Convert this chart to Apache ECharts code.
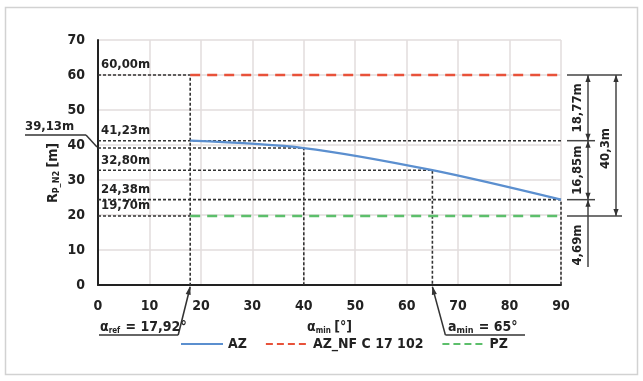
<!DOCTYPE html>
<html>
<head>
<meta charset="utf-8">
<script src="https://cdn.jsdelivr.net/npm/echarts@6/dist/echarts.min.js"></script>
<style>
  html, body { margin: 0; padding: 0; background: #fff; }
  #chart { width: 643px; height: 381px; }
</style>
</head>
<body>
<div id="chart"></div>
<script>
// Angles (°) and radii (m)
const angles = [17.92, 40, 65, 90];
const azRadius = [41.23, 39.13, 32.80, 24.38];
const nfLevel = 60.00;
const pzLevel = 19.70;
const refAngle = 17.92;
const minAngle = 65;
const dimTexts = ['18,77m', '16,85m', '40,3m', '4,69m'];

const FONT = '"DejaVu Sans Condensed", "DejaVu Sans", sans-serif';
const INK = '#222';
const BLUE = '#5b8fcf';
const RED = '#e8523a';
const GREEN = '#5cbf6b';

const fmt = v => v.toFixed(2).replace('.', ',') + 'm';

// Dotted guide polylines: from the y axis to the point, then down to the x axis
const guides = [
  [[0, nfLevel], [refAngle, nfLevel], [refAngle, 0]],
  [[0, azRadius[0]], [angles[3], azRadius[0]]],
  [[0, azRadius[1]], [angles[1], azRadius[1]], [angles[1], 0]],
  [[0, azRadius[2]], [angles[2], azRadius[2]], [angles[2], 0]],
  [[0, azRadius[3]], [angles[3], azRadius[3]], [angles[3], 0]],
  [[0, pzLevel], [refAngle, pzLevel]]
];

const chart = echarts.init(document.getElementById('chart'), null, { renderer: 'canvas' });

const guideSeries = guides.map(g => ({
  type: 'line', data: g, symbol: 'none', silent: true, z: 1,
  lineStyle: { color: '#333', width: 1.6, type: [3, 2] }
}));

const option = {
  animation: false,
  backgroundColor: '#fff',
  grid: { left: 98, right: 82, top: 40, bottom: 96, show: false },
  xAxis: {
    type: 'value', min: 0, max: 90, interval: 10,
    name: '{a|α}{s|min} {a|[°]}', nameLocation: 'middle', nameGap: 34,
    nameTextStyle: {
      rich: {
        a: { fontFamily: FONT, fontWeight: 'bold', fontSize: 14, color: INK },
        s: { fontFamily: FONT, fontWeight: 'bold', fontSize: 8, color: INK, verticalAlign: 'bottom', padding: [8, 0, 0, 0] }
      }
    },
    axisLine: { onZero: false, lineStyle: { color: '#222', width: 2 } },
    axisTick: { show: false },
    axisLabel: { margin: 14, fontFamily: FONT, fontWeight: 'bold', fontSize: 14, color: INK },
    splitLine: { show: true, lineStyle: { color: '#e2dcdc', width: 1.5 } }
  },
  yAxis: {
    type: 'value', min: 0, max: 70, interval: 10,
    axisLine: { show: true, lineStyle: { color: '#222', width: 2 } },
    axisTick: { show: false },
    axisLabel: { margin: 13, fontFamily: FONT, fontWeight: 'bold', fontSize: 14, color: INK },
    splitLine: { show: true, lineStyle: { color: '#e2dcdc', width: 1.5 } }
  },
  legend: {
    left: 175, top: 332, itemWidth: 42, itemHeight: 12, itemGap: 18,
    itemStyle: { opacity: 0 },
    textStyle: { fontFamily: FONT, fontWeight: 'bold', fontSize: 14, color: INK },
    data: [
      { name: 'AZ' },
      { name: 'AZ_NF C 17 102', lineStyle: { type: [7, 4] } },
      { name: 'PZ', lineStyle: { type: [7, 4] } }
    ]
  },
  series: [
    ...guideSeries,
    {
      name: 'AZ', type: 'line', symbol: 'none', smooth: 0.3, z: 3,
      data: angles.map((a, i) => [a, azRadius[i]]),
      lineStyle: { color: BLUE, width: 2.2 }, itemStyle: { color: BLUE }
    },
    {
      name: 'AZ_NF C 17 102', type: 'line', symbol: 'none', z: 3,
      data: [[refAngle, nfLevel], [angles[3], nfLevel]],
      lineStyle: { color: RED, width: 2.5, type: [10, 7] }, itemStyle: { color: RED }
    },
    {
      name: 'PZ', type: 'line', symbol: 'none', z: 3,
      data: [[refAngle, pzLevel], [angles[3], pzLevel]],
      lineStyle: { color: GREEN, width: 2.5, type: [10, 7] }, itemStyle: { color: GREEN }
    }
  ]
};

chart.setOption(option);

const px = (x, y) => chart.convertToPixel({ gridIndex: 0 }, [x, y]);
const g = [];
const DIM = '#444';
const line = (x1, y1, x2, y2, w, c) => g.push({
  type: 'line', silent: true, z: 10,
  shape: { x1, y1, x2, y2 }, style: { stroke: c || DIM, lineWidth: w || 1.5 }
});
const text = (str, x, y, opts) => g.push(Object.assign({
  type: 'text', silent: true, z: 10, x, y,
  style: Object.assign({
    text: str, font: 'bold 13px ' + FONT, fill: INK,
    textAlign: 'left', textVerticalAlign: 'middle', align: 'left', verticalAlign: 'middle'
  }, (opts && opts.style) || {})
}, opts ? { rotation: opts.rotation || 0 } : {}));
const arrow = (x, y, dir) => {
  // dir = -1: tip pointing up; 1: tip pointing down
  const h = 7, w = 2.6;
  g.push({
    type: 'polygon', silent: true, z: 11,
    shape: { points: [[x, y], [x - w, y - dir * h], [x + w, y - dir * h]] },
    style: { fill: '#333' }
  });
};

// Outer frame
g.push({ type: 'rect', silent: true, z: 0, shape: { x: 5.5, y: 7.5, width: 632, height: 367 },
  style: { fill: 'none', stroke: '#d2d2d2', lineWidth: 1.5 } });

// Value labels above the guides
const x0 = px(0, 0)[0];
[[nfLevel], [azRadius[0]], [azRadius[2]], [azRadius[3]], [pzLevel]].forEach(([v]) => {
  const p = px(0, v);
  text(fmt(v), x0 + 3, p[1] - 10);
});

// 39,13m with its leader to the y axis
const p39 = px(0, azRadius[1]);
text(fmt(azRadius[1]), 25, p39[1] - 21);
line(25, p39[1] - 13, 86, p39[1] - 13, 1.5, '#333');
line(86, p39[1] - 13, x0 - 1, p39[1] - 1, 1.5, '#333');

// Right-hand dimension chain
const yTop = px(0, nfLevel)[1];
const yA = px(0, azRadius[0])[1];
const yB = px(0, azRadius[3])[1];
const yP = px(0, pzLevel)[1];
const xd1 = 588, xd2 = 616;
line(567, yTop, 622, yTop);
line(567, yA, 595, yA);
line(567, yB, 595, yB);
line(567, yP, 622, yP);
line(xd1, yTop, xd1, yP + 51);
line(xd2, yTop, xd2, yP);
arrow(xd1, yTop, -1); arrow(xd1, yA, 1);
arrow(xd1, yA, -1); arrow(xd1, yB, 1);
arrow(xd1, yB, -1);
arrow(xd2, yTop, -1); arrow(xd2, yP, 1);
const rot = { rotation: Math.PI / 2, style: { textAlign: 'center', align: 'center' } };
text(dimTexts[0], xd1 - 10, (yTop + yA) / 2, rot);
text(dimTexts[1], xd1 - 10, (yA + yB) / 2, rot);
text(dimTexts[2], xd2 - 10, (yTop + yP) / 2 + 3, rot);
text(dimTexts[3], xd1 - 10, yP + 29, rot);

// Y axis title
g.push({
  type: 'text', silent: true, z: 10, x: 53, y: 173, rotation: Math.PI / 2,
  style: {
    text: '{a|R}{s|P_N2} {a|[m]}', textAlign: 'center', align: 'center',
    textVerticalAlign: 'middle', verticalAlign: 'middle',
    rich: {
      a: { fontFamily: FONT, fontWeight: 'bold', fontSize: 14, fill: INK, color: INK },
      s: { fontFamily: FONT, fontWeight: 'bold', fontSize: 9, fill: INK, color: INK, padding: [7, 0, 0, 0] }
    }
  }
});

// α_ref and α_min callouts under the x axis
const yAxis0 = px(0, 0)[1];
const xr = px(refAngle, 0)[0];
const xm = px(minAngle, 0)[0];
const yUnder = 335;
line(99, yUnder, xr - 12, yUnder, 1.5, '#333');
line(xr - 12, yUnder, xr, yAxis0 + 2, 1.5, '#333');
g.push({ type: 'polygon', silent: true, z: 11,
  shape: { points: [[xr, yAxis0 + 1], [xr - 4.5, yAxis0 + 9], [xr + 0.5, yAxis0 + 10]] }, style: { fill: '#333' } });
g.push({
  type: 'text', silent: true, z: 10, x: 100, y: 327,
  style: {
    text: '{a|α}{s|ref}{a| = ' + refAngle.toFixed(2).replace('.', ',') + '°}',
    textVerticalAlign: 'middle', verticalAlign: 'middle',
    rich: {
      a: { fontFamily: FONT, fontWeight: 'bold', fontSize: 14, fill: INK, color: INK },
      s: { fontFamily: FONT, fontWeight: 'bold', fontSize: 8, fill: INK, color: INK, padding: [7, 1, 0, 0] }
    }
  }
});
line(xm, yAxis0 + 2, xm + 13, yUnder, 1.5, '#333');
line(xm + 13, yUnder, 525, yUnder, 1.5, '#333');
g.push({ type: 'polygon', silent: true, z: 11,
  shape: { points: [[xm, yAxis0 + 1], [xm + 4.5, yAxis0 + 9], [xm - 0.5, yAxis0 + 10]] }, style: { fill: '#333' } });
g.push({
  type: 'text', silent: true, z: 10, x: 448, y: 327,
  style: {
    text: '{a|a}{s|min}{a| = ' + minAngle + '°}',
    textVerticalAlign: 'middle', verticalAlign: 'middle',
    rich: {
      a: { fontFamily: FONT, fontWeight: 'bold', fontSize: 14, fill: INK, color: INK },
      s: { fontFamily: FONT, fontWeight: 'bold', fontSize: 9, fill: INK, color: INK, padding: [7, 1, 0, 0] }
    }
  }
});

chart.setOption({ graphic: g });
</script>
</body>
</html>
